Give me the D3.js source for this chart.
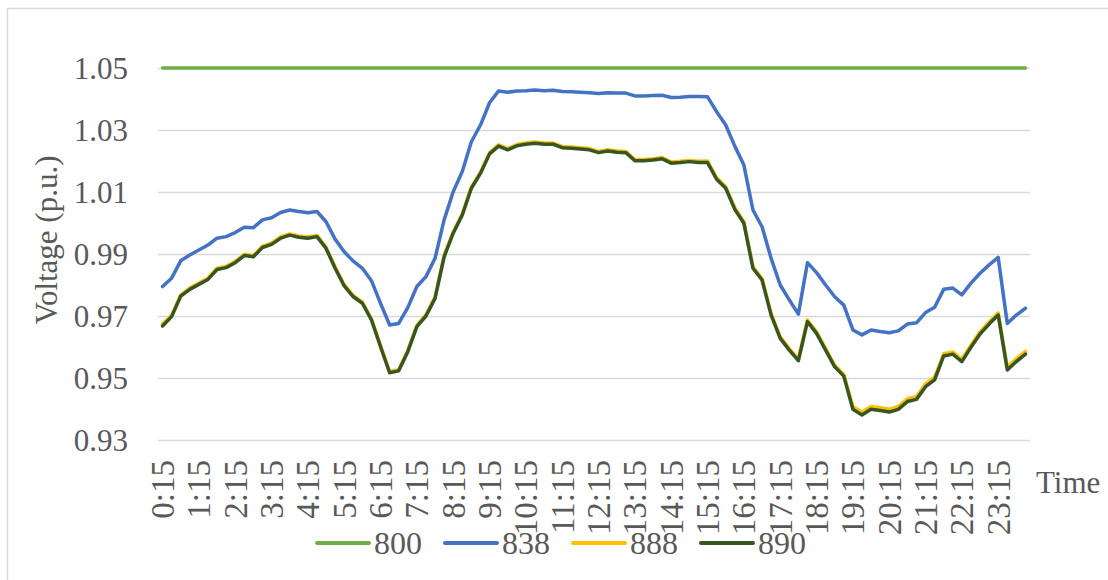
<!DOCTYPE html>
<html>
<head>
<meta charset="utf-8">
<script src="https://cdn.jsdelivr.net/npm/d3@7"></script>
<style>
    body { margin: 0; background: #fff; }
    svg text { font-family: "Liberation Serif", "Times New Roman", serif; fill: #595959; }
</style>
</head>
<body>
<div class="line-chart-container"></div>
<script>
// categories (every 15 minutes)
const times = [
    "0:15","0:30","0:45","1:00","1:15","1:30","1:45","2:00","2:15","2:30","2:45","3:00",
    "3:15","3:30","3:45","4:00","4:15","4:30","4:45","5:00","5:15","5:30","5:45","6:00",
    "6:15","6:30","6:45","7:00","7:15","7:30","7:45","8:00","8:15","8:30","8:45","9:00",
    "9:15","9:30","9:45","10:00","10:15","10:30","10:45","11:00","11:15","11:30","11:45","12:00",
    "12:15","12:30","12:45","13:00","13:15","13:30","13:45","14:00","14:15","14:30","14:45","15:00",
    "15:15","15:30","15:45","16:00","16:15","16:30","16:45","17:00","17:15","17:30","17:45","18:00",
    "18:15","18:30","18:45","19:00","19:15","19:30","19:45","20:00","20:15","20:30","20:45","21:00",
    "21:15","21:30","21:45","22:00","22:15","22:30","22:45","23:00","23:15","23:30","23:45","24:00"
];
// labels shown on the x axis
const timeLabels = [
    "0:15","1:15","2:15","3:15","4:15","5:15","6:15","7:15","8:15","9:15","10:15","11:15",
    "12:15","13:15","14:15","15:15","16:15","17:15","18:15","19:15","20:15","21:15","22:15","23:15"
];
const voltageTicks = [0.93, 0.95, 0.97, 0.99, 1.01, 1.03, 1.05];

// series values
const bus800 = [
    1.05,1.05,1.05,1.05,1.05,1.05,1.05,1.05,1.05,1.05,1.05,1.05,1.05,1.05,1.05,1.05,
    1.05,1.05,1.05,1.05,1.05,1.05,1.05,1.05,1.05,1.05,1.05,1.05,1.05,1.05,1.05,1.05,
    1.05,1.05,1.05,1.05,1.05,1.05,1.05,1.05,1.05,1.05,1.05,1.05,1.05,1.05,1.05,1.05,
    1.05,1.05,1.05,1.05,1.05,1.05,1.05,1.05,1.05,1.05,1.05,1.05,1.05,1.05,1.05,1.05,
    1.05,1.05,1.05,1.05,1.05,1.05,1.05,1.05,1.05,1.05,1.05,1.05,1.05,1.05,1.05,1.05,
    1.05,1.05,1.05,1.05,1.05,1.05,1.05,1.05,1.05,1.05,1.05,1.05,1.05,1.05,1.05,1.05
];
const bus838 = [
    0.9795,0.9822,0.9878,0.9897,0.9913,0.9929,0.9951,0.9956,0.9969,0.9986,
    0.9985,1.0010,1.0017,1.0034,1.0042,1.0037,1.0033,1.0037,1.0004,0.9948,
    0.9907,0.9877,0.9854,0.9814,0.9741,0.9671,0.9676,0.9727,0.9795,0.9827,
    0.9886,1.0010,1.0101,1.0166,1.0262,1.0316,1.0388,1.0426,1.0422,1.0426,
    1.0427,1.0429,1.0427,1.0428,1.0424,1.0423,1.0422,1.0420,1.0418,1.0420,
    1.0419,1.0419,1.0410,1.0410,1.0411,1.0412,1.0405,1.0406,1.0408,1.0408,
    1.0407,1.0359,1.0316,1.0248,1.0187,1.0042,0.9988,0.9886,0.9800,0.9752,
    0.9706,0.9872,0.9840,0.9800,0.9762,0.9735,0.9655,0.9639,0.9655,0.9650,
    0.9646,0.9652,0.9674,0.9678,0.9711,0.9728,0.9786,0.9790,0.9768,0.9806,
    0.9838,0.9865,0.9889,0.9676,0.9703,0.9725
];
const bus888 = [
    0.9674,0.9702,0.9768,0.9790,0.9806,0.9822,0.9854,0.9860,0.9876,0.9899,
    0.9895,0.9925,0.9935,0.9955,0.9965,0.9958,0.9955,0.9960,0.9922,0.9858,
    0.9801,0.9766,0.9745,0.9691,0.9605,0.9521,0.9527,0.9589,0.9670,0.9704,
    0.9761,0.9895,0.9971,1.0030,1.0116,1.0164,1.0227,1.0252,1.0240,1.0253,
    1.0258,1.0261,1.0258,1.0258,1.0247,1.0245,1.0243,1.0240,1.0231,1.0236,
    1.0232,1.0231,1.0205,1.0205,1.0207,1.0211,1.0197,1.0199,1.0202,1.0199,
    1.0200,1.0146,1.0117,1.0049,1.0004,0.9859,0.9821,0.9708,0.9633,0.9595,
    0.9561,0.9687,0.9649,0.9595,0.9541,0.9511,0.9408,0.9390,0.9408,0.9404,
    0.9399,0.9408,0.9433,0.9440,0.9481,0.9503,0.9578,0.9584,0.9560,0.9606,
    0.9649,0.9681,0.9710,0.9535,0.9562,0.9586
];
const bus890 = [
    0.9668,0.9698,0.9764,0.9786,0.9802,0.9818,0.9850,0.9856,0.9872,0.9895,
    0.9891,0.9921,0.9931,0.9951,0.9961,0.9954,0.9951,0.9956,0.9918,0.9854,
    0.9797,0.9762,0.9741,0.9687,0.9601,0.9517,0.9523,0.9585,0.9666,0.9700,
    0.9757,0.9891,0.9967,1.0026,1.0112,1.0160,1.0223,1.0248,1.0236,1.0249,
    1.0254,1.0257,1.0254,1.0254,1.0243,1.0241,1.0239,1.0236,1.0227,1.0232,
    1.0228,1.0227,1.0201,1.0201,1.0203,1.0207,1.0193,1.0195,1.0198,1.0195,
    1.0195,1.0141,1.0112,1.0044,0.9999,0.9854,0.9816,0.9703,0.9628,0.9590,
    0.9556,0.9682,0.9644,0.9590,0.9536,0.9506,0.9399,0.9381,0.9399,0.9395,
    0.9390,0.9399,0.9424,0.9431,0.9472,0.9494,0.9571,0.9577,0.9553,0.9599,
    0.9642,0.9674,0.9703,0.9526,0.9553,0.9577
];

const seriesNames = ["800", "838", "888", "890"];
const seriesColors = ["#70AD47", "#4472C4", "#FFC000", "#375623"];
const seriesValues = [bus800, bus838, bus888, bus890];

// 畫布尺寸
const svg_width = 1108;
const svg_height = 580;
const chart = { left: 158, right: 1030, top: 68, bottom: 440 };

const svg = d3.select(".line-chart-container").append("svg")
    .attr("width", svg_width)
    .attr("height", svg_height);

// chart border
svg.append("rect")
    .attr("x", 7.5).attr("y", 8.5)
    .attr("width", 1200).attr("height", 700)
    .style("fill", "none")
    .style("stroke", "#d9d9d9")
    .style("stroke-width", 1.5);

// scales
const xScale = d3.scaleBand()
    .domain(times)
    .range([chart.left, chart.right])
    .padding(0);
const xMid = t => xScale(t) + xScale.bandwidth() / 2;

const yScale = d3.scaleLinear()
    .domain([0.93, 1.05])
    .range([chart.bottom, chart.top]);

// gridlines + y labels
const yAxis = d3.axisLeft(yScale)
    .tickValues(voltageTicks)
    .tickFormat(d3.format(".2f"))
    .tickSizeInner(-(chart.right - chart.left))
    .tickSizeOuter(0)
    .tickPadding(30);

const yAxisDraw = svg.append("g")
    .attr("class", "y axis")
    .attr("transform", `translate(${chart.left},0)`)
    .call(yAxis);
yAxisDraw.select(".domain").remove();
yAxisDraw.selectAll("line")
    .style("stroke", "#d9d9d9")
    .style("stroke-width", 1.5);
yAxisDraw.selectAll("text")
    .style("font-size", "31px")
    .attr("dy", "0.35em");

// x labels, rotated
const xAxis = d3.axisBottom(xScale)
    .tickValues(timeLabels)
    .tickSize(0)
    .tickPadding(0);

const xAxisDraw = svg.append("g")
    .attr("class", "x axis")
    .attr("transform", `translate(0,${chart.bottom})`)
    .call(xAxis);
xAxisDraw.select(".domain").remove();
xAxisDraw.selectAll("text")
    .style("font-size", "33px")
    .attr("text-anchor", "end")
    .attr("transform", "translate(0,20) rotate(-90)")
    .attr("x", 0).attr("y", 0)
    .attr("dy", "0.35em");

// lines
const line = d3.line()
    .x((d, i) => xMid(times[i]))
    .y(d => yScale(d));

svg.append("g").attr("class", "lines")
    .selectAll("path")
    .data(seriesValues)
    .join("path")
    .attr("d", d => line(d))
    .style("fill", "none")
    .style("stroke", (d, i) => seriesColors[i])
    .style("stroke-width", 3.5)
    .style("stroke-linejoin", "round")
    .style("stroke-linecap", "round");

// axis titles
svg.append("text")
    .attr("transform", "translate(57,240) rotate(-90)")
    .attr("text-anchor", "middle")
    .style("font-size", "31px")
    .text("Voltage (p.u.)");

svg.append("text")
    .attr("x", 1036).attr("y", 493)
    .style("font-size", "31px")
    .text("Time");

// legend
const legend = svg.append("g")
    .attr("class", "legend")
    .attr("transform", "translate(317,543)")
    .selectAll("g")
    .data(seriesNames)
    .join("g")
    .attr("transform", (d, i) => `translate(${i * 128},0)`);

legend.append("line")
    .attr("x1", 0).attr("x2", 52)
    .style("stroke", (d, i) => seriesColors[i])
    .style("stroke-width", 4)
    .style("stroke-linecap", "round");

legend.append("text")
    .attr("x", 57).attr("y", 11)
    .style("font-size", "32px")
    .text(d => d);
</script>
</body>
</html>
